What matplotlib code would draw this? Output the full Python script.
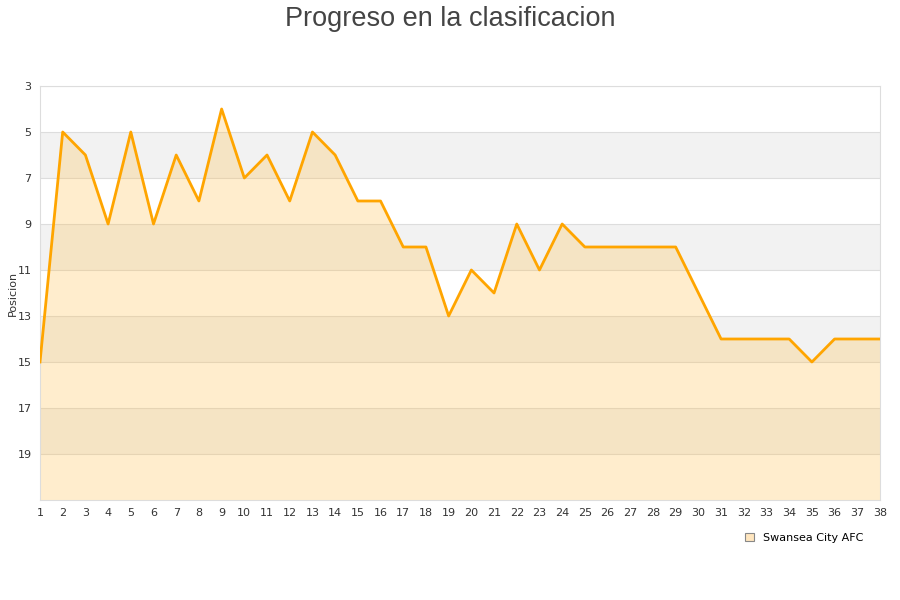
import matplotlib
matplotlib.use("Agg")
import matplotlib.pyplot as plt
import numpy as np

jornadas = list(range(1, 39))
posicion = [15, 5, 6, 9, 5, 9, 6, 8, 4, 7, 6, 8, 5, 6, 8, 8, 10, 10, 13, 11,
            12, 9, 11, 9, 10, 10, 10, 10, 10, 12, 14, 14, 14, 14, 15, 14, 14, 14]
equipo = "Swansea City AFC"
y_ticks = [3, 5, 7, 9, 11, 13, 15, 17, 19]

fig = plt.figure(figsize=(9, 6), dpi=100)
ax = fig.add_axes([40 / 900, 100 / 600, 840 / 900, 414 / 600])

# bandas alternas
for lo in [5, 9, 13, 17]:
    ax.axhspan(lo, lo + 2, color="#f2f2f2", zorder=0, lw=0)
for y in y_ticks:
    ax.axhline(y, color="#dddddd", lw=0.8, zorder=1)

ax.fill_between(jornadas, posicion, 21, color="#ffc04d", alpha=0.28, lw=0, zorder=2)
ax.plot(jornadas, posicion, color="#ffa500", lw=2.0, zorder=3)

ax.set_xlim(1, 38)
ax.set_ylim(21, 3)
ax.set_xticks(jornadas)
ax.set_yticks(y_ticks)
ax.tick_params(length=0, labelsize=8, colors="#333333", pad=6)
for s in ax.spines.values():
    s.set_color("#dddddd")
ax.set_ylabel("Posicion", fontsize=8, color="#333333")
ax.yaxis.set_label_coords(-22 / 840, 0.5)

fig.text(0.5, 0.969, "Progreso en la clasificacion", ha="center", va="center",
         fontsize=19.5, color="#444444", family="Liberation Sans")

fig.legend([plt.Rectangle((0, 0), 1, 1, facecolor="#ffe6bf", edgecolor="#888888", lw=0.8)],
           [equipo], loc="center left", bbox_to_anchor=(735 / 900, 1 - 538 / 600),
           frameon=False, fontsize=8, handlelength=0.8, handleheight=0.8,
           handletextpad=0.8)

fig.savefig("out.png")
